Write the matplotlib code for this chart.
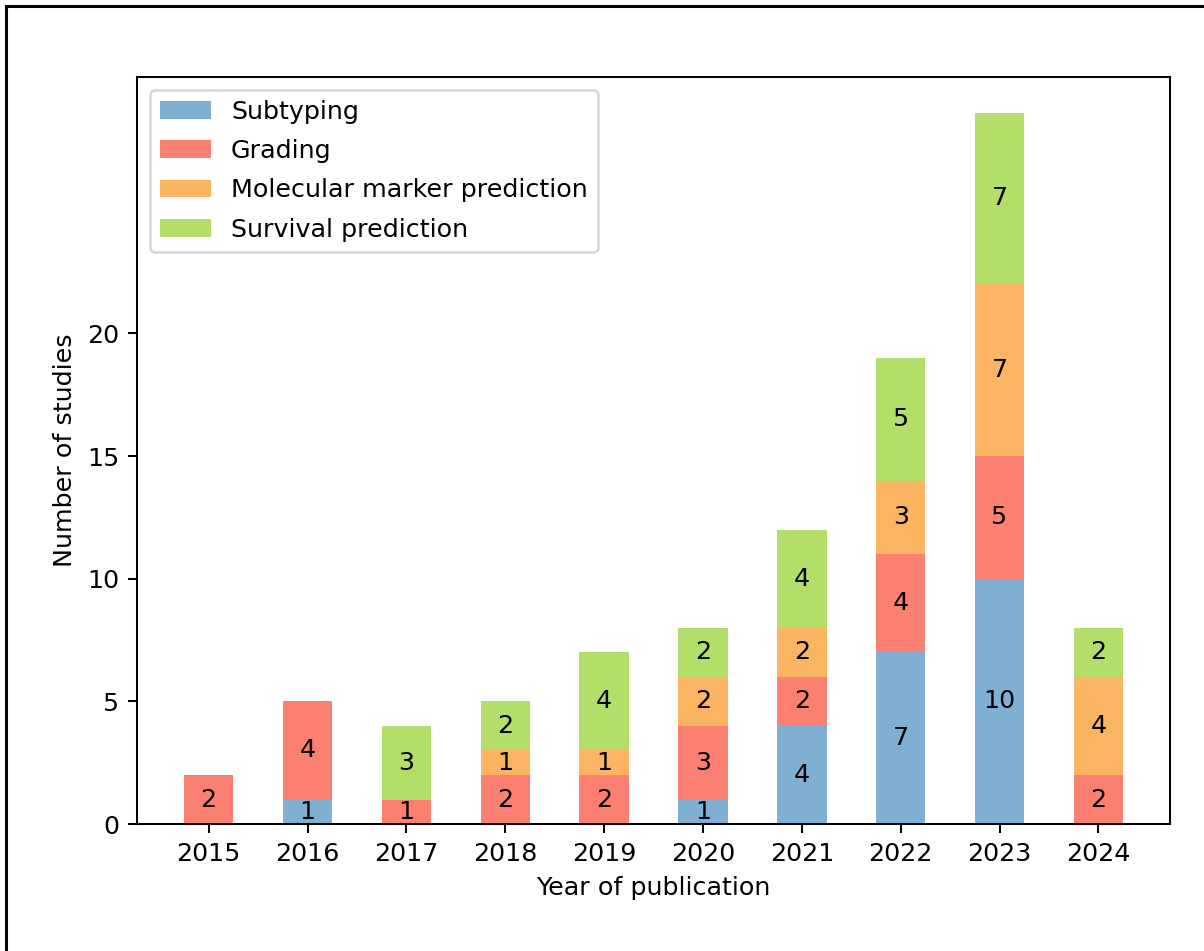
import matplotlib
matplotlib.use("Agg")
from matplotlib import pyplot as plt
from matplotlib.patches import Rectangle
import numpy as np

years = ["2015", "2016", "2017", "2018", "2019", "2020", "2021", "2022", "2023", "2024"]
subtyping = [0, 1, 0, 0, 0, 1, 4, 7, 10, 0]
grading = [2, 4, 1, 2, 2, 3, 2, 4, 5, 2]
molecular = [0, 0, 0, 1, 1, 2, 2, 3, 7, 4]
survival = [0, 0, 3, 2, 4, 2, 4, 5, 7, 2]

series = [("Subtyping", subtyping, "#7fb0d3"),
          ("Grading", grading, "#fb8072"),
          ("Molecular marker prediction", molecular, "#fbb462"),
          ("Survival prediction", survival, "#b3de69")]

DPI = 183
fig = plt.figure(figsize=(1204 / DPI, 951 / DPI), dpi=DPI)
ax = fig.add_axes([0.1138, 0.1335, 0.858, 0.7855])

x = np.arange(len(years))
bottom = np.zeros(len(years))
for name, vals, col in series:
    vals = np.array(vals)
    ax.bar(x, vals, 0.5, bottom=bottom, color=col, label=name)
    for xi, b, v in zip(x, bottom, vals):
        if v > 0:
            ax.text(xi, b + v / 2, str(v), ha="center", va="center", fontsize=10)
    bottom = bottom + vals

ax.set_xticks(x)
ax.set_xticklabels(years)
ax.set_yticks(range(0, 21, 5))
ax.set_xlabel("Year of publication")
ax.set_ylabel("Number of studies")
ax.legend(loc="upper left", labelspacing=0.6)

# border of the original figure
fig.patches.append(Rectangle((6 / 1204, -0.5), 2, 1.5 - 6 / 951, transform=fig.transFigure,
                             fill=False, edgecolor="black", linewidth=1.2))

fig.savefig("out.png", dpi=DPI)
